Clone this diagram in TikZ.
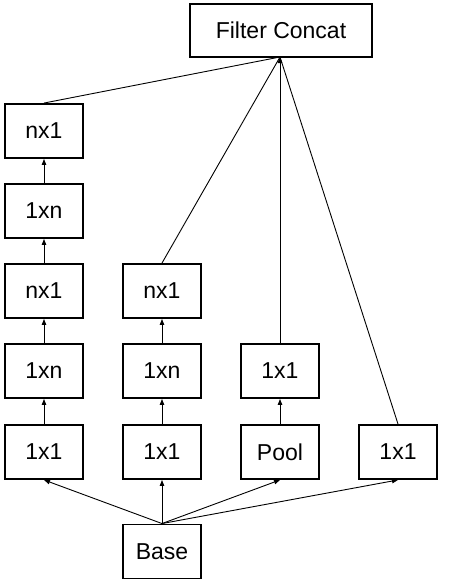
\documentclass[tikz,border=0pt]{standalone}
\usepackage{fontspec}
\setmainfont{Liberation Sans}
\usetikzlibrary{arrows.meta}
\begin{document}
\begin{tikzpicture}[x=1pt,y=-1pt,
  blk/.style={draw,line width=1.9pt,minimum width=78pt,minimum height=54pt,inner sep=0pt,font=\fontsize{23}{27}\selectfont},
  conn/.style={line width=0.9pt,-{Triangle[length=6pt,width=4.5pt]}},
  plain/.style={line width=0.9pt}]
\useasboundingbox (0,0) rectangle (450,584);
\node[blk,minimum width=182pt,minimum height=53pt] (fc) at (281,30.5) {Filter Concat};
\coordinate (c) at (280,57);
% column 1
\node[blk] (a5) at (44,131) {nx1};
\node[blk] (a4) at (44,211) {1xn};
\node[blk] (a3) at (44,291) {nx1};
\node[blk] (a2) at (44,371) {1xn};
\node[blk] (a1) at (44,452) {1x1};
% column 2
\node[blk] (b3) at (162,291) {nx1};
\node[blk] (b2) at (162,371) {1xn};
\node[blk] (b1) at (162,452) {1x1};
% column 3
\node[blk] (p2) at (280,371) {1x1};
\node[blk] (p1) at (280,452) {Pool};
% column 4
\node[blk] (d1) at (398,452) {1x1};
% base
\node[blk] (base) at (162,551.5) {Base};
% inner arrows
\draw[conn] (a1.north) -- (a2.south);
\draw[conn] (a2.north) -- (a3.south);
\draw[conn] (a3.north) -- (a4.south);
\draw[conn] (a4.north) -- (a5.south);
\draw[conn] (b1.north) -- (b2.south);
\draw[conn] (b2.north) -- (b3.south);
\draw[conn] (p1.north) -- (p2.south);
% base arrows
\draw[conn] (base.north) -- (a1.south);
\draw[conn] (base.north) -- (b1.south);
\draw[conn] (base.north) -- (p1.south);
\draw[conn] (base.north) -- (d1.south);
% to concat
\draw[plain] (a5.north) -- (c);
\draw[plain] (b3.north) -- (c);
\draw[plain] (d1.north) -- (c);
\draw[conn] (p2.north) -- (c);
\end{tikzpicture}
\end{document}
